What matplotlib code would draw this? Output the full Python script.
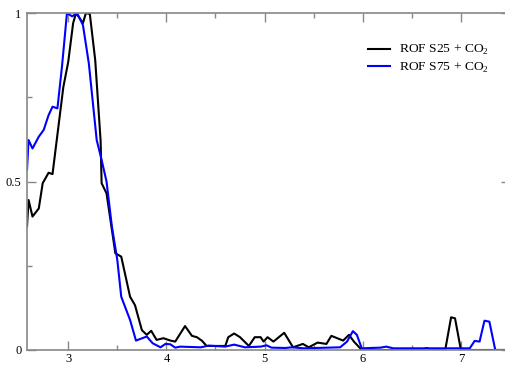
import matplotlib.pyplot as plt
from matplotlib.ticker import MultipleLocator, FormatStrFormatter

# ROF S25 + CO2 (black)
x_s25 = [2.58, 2.596, 2.636, 2.70, 2.74, 2.80, 2.84, 2.90, 2.95, 3.00, 3.05, 3.08,
         3.15, 3.18, 3.22, 3.275, 3.33, 3.34, 3.39, 3.48, 3.54, 3.63, 3.68, 3.75,
         3.80, 3.845, 3.90, 3.97, 4.04, 4.09, 4.19, 4.26, 4.31, 4.36, 4.41, 4.60,
         4.63, 4.69, 4.75, 4.84, 4.90, 4.96, 4.99, 5.03, 5.09, 5.20, 5.29, 5.39,
         5.45, 5.54, 5.63, 5.68, 5.80, 5.86, 5.91, 5.99, 6.60, 6.65, 6.70, 6.84,
         6.90, 6.94, 7.00, 7.50]
y_s25 = [0.366, 0.445, 0.396, 0.42, 0.495, 0.526, 0.522, 0.663, 0.78, 0.855, 0.97, 1.0,
         0.97, 1.0, 0.997, 0.86, 0.62, 0.495, 0.465, 0.287, 0.277, 0.158, 0.133, 0.059,
         0.045, 0.057, 0.03, 0.035, 0.028, 0.025, 0.071, 0.042, 0.038, 0.028, 0.012, 0.012,
         0.038, 0.049, 0.038, 0.012, 0.038, 0.038, 0.025, 0.038, 0.025, 0.051, 0.008, 0.018,
         0.008, 0.022, 0.018, 0.042, 0.028, 0.045, 0.025, 0.0, 0.0, 0.006, 0.0, 0.0,
         0.097, 0.094, 0.0, 0.0]

# ROF S75 + CO2 (blue)
x_s75 = [2.58, 2.596, 2.636, 2.70, 2.75, 2.80, 2.84, 2.89, 2.936, 2.987, 3.04, 3.09,
         3.15, 3.21, 3.29, 3.34, 3.39, 3.445, 3.50, 3.54, 3.63, 3.69, 3.80, 3.86,
         3.94, 3.99, 4.04, 4.09, 4.14, 4.35, 4.43, 4.60, 4.69, 4.80, 4.96, 5.02,
         5.07, 5.21, 5.28, 5.40, 5.77, 5.84, 5.90, 5.94, 5.99, 6.18, 6.24, 6.31,
         7.09, 7.14, 7.19, 7.24, 7.29, 7.35, 7.50]
y_s75 = [0.534, 0.623, 0.598, 0.633, 0.653, 0.697, 0.722, 0.717, 0.84, 1.0, 0.99, 1.0,
         0.964, 0.85, 0.623, 0.564, 0.50, 0.366, 0.267, 0.158, 0.089, 0.028, 0.04, 0.02,
         0.008, 0.018, 0.017, 0.007, 0.01, 0.008, 0.013, 0.01, 0.016, 0.008, 0.01, 0.014,
         0.007, 0.006, 0.008, 0.005, 0.008, 0.025, 0.056, 0.045, 0.005, 0.007, 0.01, 0.005,
         0.005, 0.027, 0.025, 0.087, 0.084, 0.0, 0.0]

plt.rcParams['font.family'] = ['Liberation Serif', 'DejaVu Serif']
plt.rcParams['mathtext.fontset'] = 'custom'
plt.rcParams['mathtext.rm'] = 'Liberation Serif'

fig = plt.figure(figsize=(5.05, 3.66), dpi=100)
ax = fig.add_axes([27 / 505, 16 / 366, 483 / 505, 337 / 366])

ax.plot(x_s25, y_s25, color="black", lw=1.5, label="ROF S25 + CO$_\\mathrm{2}$")
ax.plot(x_s75, y_s75, color="#0000ff", lw=1.5, label="ROF S75 + CO$_\\mathrm{2}$")

ax.set_xlim(2.58, 7.5)
ax.set_ylim(0, 1)

ax.xaxis.set_major_locator(MultipleLocator(1))
ax.xaxis.set_minor_locator(MultipleLocator(0.5))
ax.yaxis.set_major_locator(MultipleLocator(0.5))
ax.yaxis.set_minor_locator(MultipleLocator(0.25))
ax.yaxis.set_major_formatter(FormatStrFormatter("%g"))
ax.xaxis.set_major_formatter(FormatStrFormatter("%g"))

for s in ax.spines.values():
    s.set_color("#888888")
    s.set_linewidth(1.2)

ax.tick_params(which="both", direction="in", top=True, right=True,
               color="#888888", width=1.0, labelsize=9)
ax.tick_params(which="major", length=6.5)
ax.tick_params(which="minor", length=3.6)
ax.tick_params(axis="x", pad=2)
ax.tick_params(axis="y", pad=4)

leg = ax.legend(loc="upper right", bbox_to_anchor=(0.956, 0.91), frameon=False,
                fontsize=9.7, handlelength=1.6, handletextpad=0.65, labelspacing=0.25,
                borderaxespad=0, borderpad=0)

fig.savefig("out.png", dpi=100)
